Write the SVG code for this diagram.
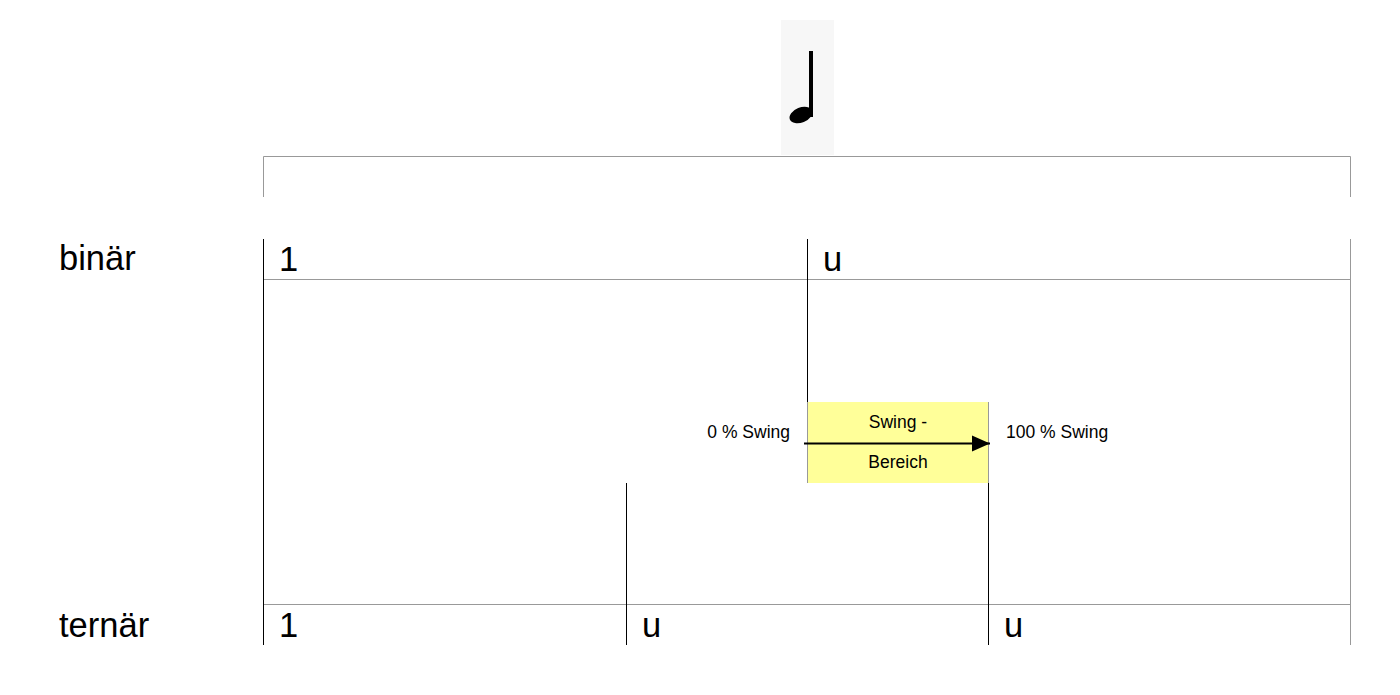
<svg xmlns="http://www.w3.org/2000/svg" width="1400" height="695" viewBox="0 0 1400 695">
<style>
.g{stroke:#999999;stroke-width:1;fill:none}
.k{stroke:#000000;stroke-width:1;fill:none}
.big{font-family:"Liberation Sans",Arial,sans-serif;font-size:34.5px;fill:#000}
.sm{font-family:"Liberation Sans",Arial,sans-serif;font-size:17.5px;fill:#000}
</style>
<defs>
<marker id="ah" markerWidth="18" markerHeight="18" viewBox="0 0 18 18" refX="18" refY="9" orient="auto" markerUnits="userSpaceOnUse">
<path d="M0,1 L18,9 L0,17 Z" fill="#000"/>
</marker>
</defs>
<rect width="1400" height="695" fill="#ffffff"/>
<g id="note">
<rect x="781" y="20" width="53" height="135" fill="#f7f7f7"/>
<rect x="809" y="51" width="4" height="66" fill="#000"/>
<ellipse cx="801" cy="115" rx="12" ry="7.5" transform="rotate(-22 801 115)" fill="#000"/>
</g>
<g id="grid">
<path class="g" d="M263.5,197 V156.5 H1350.5 V197"/>
<path class="g" d="M263,279.5 H1350.5"/>
<path class="g" d="M263,604.5 H1350.5"/>
<path class="g" d="M1350.5,239 V645"/>
<path class="k" d="M263.5,239 V645"/>
<path class="k" d="M807.5,239 V402"/>
<path class="k" d="M626.5,483 V645"/>
<path class="k" d="M988.5,483 V645"/>
</g>
<g id="labels">
<text class="big" x="59" y="270">binär</text>
<text class="big" x="59" y="637">ternär</text>
<text class="big" x="279" y="271">1</text>
<text class="big" x="823" y="271">u</text>
<text class="big" x="279" y="637">1</text>
<text class="big" x="642" y="637">u</text>
<text class="big" x="1004" y="637">u</text>
</g>
<g id="swing-box">
<rect x="807.5" y="402" width="181" height="81" fill="#ffff99" stroke="none"/>
<path class="g" d="M807.5,402 V483 M988.5,402 V483"/>
<text class="sm" x="898" y="428" text-anchor="middle">Swing -</text>
<text class="sm" x="898" y="468" text-anchor="middle">Bereich</text>
</g>
<g id="side-labels">
<text class="sm" x="790" y="438" text-anchor="end">0 % Swing</text>
<text class="sm" x="1006" y="438">100 % Swing</text>
</g>
<g id="connectors">
<line x1="804" y1="443.5" x2="990" y2="443.5" stroke="#000" stroke-width="2" marker-end="url(#ah)"/>
</g>
</svg>
